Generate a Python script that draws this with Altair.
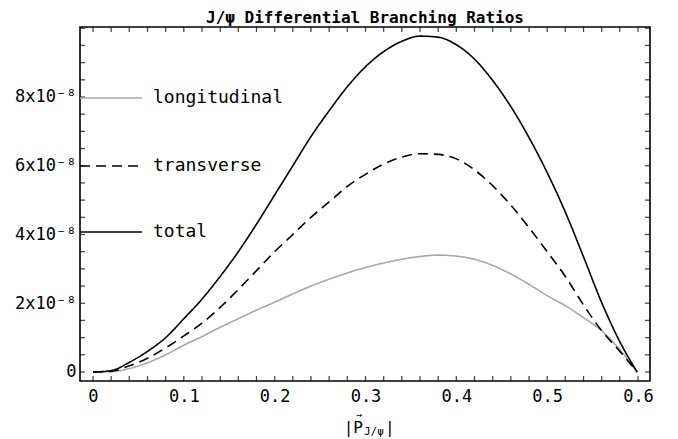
import altair as alt
import pandas as pd

# momentum |p_J/psi| (GeV)
p = [0.0, 0.02, 0.04, 0.06, 0.08, 0.10, 0.12, 0.14, 0.16, 0.18, 0.20, 0.22, 0.24,
     0.26, 0.28, 0.30, 0.32, 0.34, 0.36, 0.38, 0.40, 0.42, 0.44, 0.46, 0.48, 0.50,
     0.52, 0.54, 0.56, 0.58, 0.599]
# differential branching ratios in units of 1e-8
total = [0.0, 0.04, 0.28, 0.6, 1.0, 1.55, 2.12, 2.78, 3.5, 4.3, 5.15, 6.0, 6.85,
         7.6, 8.3, 8.88, 9.32, 9.62, 9.77, 9.74, 9.52, 9.1, 8.48, 7.72, 6.82, 5.8,
         4.65, 3.35, 2.02, 0.88, 0.0]
transverse = [0.0, 0.02, 0.18, 0.4, 0.7, 1.05, 1.42, 1.88, 2.4, 2.95, 3.5, 4.0, 4.5,
              4.95, 5.4, 5.75, 6.05, 6.25, 6.35, 6.33, 6.2, 5.88, 5.42, 4.85, 4.2, 3.5,
              2.78, 1.95, 1.2, 0.6, 0.0]
longitudinal = [0.0, 0.01, 0.1, 0.27, 0.5, 0.78, 1.03, 1.3, 1.55, 1.8, 2.03, 2.27, 2.5,
                2.7, 2.88, 3.04, 3.17, 3.28, 3.36, 3.4, 3.37, 3.28, 3.1, 2.85, 2.55, 2.22,
                1.93, 1.58, 1.2, 0.65, 0.0]

series_names = ["longitudinal", "transverse", "total"]
title_text = "J/ψ Differential Branching Ratios"
x_tick_labels = [0, 0.1, 0.2, 0.3, 0.4, 0.5, 0.6]
y_tick_labels = [0, 2, 4, 6, 8]
x_minor = [round(i * 0.02, 2) for i in range(31)]
y_minor = [round(i * 0.5, 1) for i in range(21)]

rows = []
for name, vals in zip(series_names, [longitudinal, transverse, total]):
    for xv, yv in zip(p, vals):
        rows.append({"p": xv, "br": yv, "series": name})
df = pd.DataFrame(rows)

W, H = 570, 354
FONT = "DejaVu Sans Mono"
xscale = alt.Scale(domain=[-0.0143, 0.6132], nice=False, zero=False)
yscale = alt.Scale(domain=[-0.262, 10.036], nice=False, zero=False)

xaxis = alt.Axis(values=x_tick_labels, title=None, domain=False, ticks=False,
                 grid=False, labelFont=FONT, labelFontSize=17, labelPadding=7,
                 labelColor="black", labelFlush=False,
                 labelExpr="datum.value == 0 ? '0' : format(datum.value, '.1f')")
yaxis = alt.Axis(values=y_tick_labels, title=None, domain=False, ticks=False,
                 grid=False, labelFont=FONT, labelFontSize=17, labelPadding=4,
                 labelColor="black", labelFlush=False,
                 labelExpr="datum.value == 0 ? '0' : datum.value + 'x10⁻⁸'")

lines = alt.Chart(df).mark_line(strokeWidth=1.6, interpolate="monotone").encode(
    x=alt.X("p:Q", scale=xscale, axis=xaxis),
    y=alt.Y("br:Q", scale=yscale, axis=yaxis),
    color=alt.Color("series:N", scale=alt.Scale(domain=series_names,
                                                range=["#a8a8a8", "black", "black"]),
                    legend=None),
    strokeDash=alt.StrokeDash("series:N", scale=alt.Scale(domain=series_names,
                                                          range=[[1, 0], [10, 6], [1, 0]]),
                              legend=None),
    detail="series:N",
)

dfx = pd.DataFrame({"t": x_minor})
dfy = pd.DataFrame({"u": y_minor})
TL = 5
tick_style = dict(color="black", thickness=1.3, size=TL)
bottom = alt.Chart(dfx).mark_tick(orient="vertical", **tick_style).encode(
    x=alt.X("t:Q", scale=xscale, axis=xaxis), y=alt.value(H - TL / 2))
top = alt.Chart(dfx).mark_tick(orient="vertical", **tick_style).encode(
    x=alt.X("t:Q", scale=xscale, axis=xaxis), y=alt.value(TL / 2))
left = alt.Chart(dfy).mark_tick(orient="horizontal", **tick_style).encode(
    y=alt.Y("u:Q", scale=yscale, axis=yaxis), x=alt.value(TL / 2))
right = alt.Chart(dfy).mark_tick(orient="horizontal", **tick_style).encode(
    y=alt.Y("u:Q", scale=yscale, axis=yaxis), x=alt.value(W - TL / 2))

# manual legend
leg_y = [71, 139, 205]
leg_colors = ["#a8a8a8", "black", "black"]
leg_dash = [[1, 0], [10, 6], [1, 0]]
legend_layers = []
for name, yy, c, d in zip(series_names, leg_y, leg_colors, leg_dash):
    legend_layers.append(
        alt.Chart(pd.DataFrame({"s": [name]})).mark_rule(color=c, strokeWidth=1.6, strokeDash=d)
        .encode(x=alt.value(0), x2=alt.value(62), y=alt.value(yy)))
    legend_layers.append(
        alt.Chart(pd.DataFrame({"s": [name]})).mark_text(
            align="left", baseline="middle", font=FONT, fontSize=18, color="black")
        .encode(x=alt.value(73), y=alt.value(yy), text="s:N"))

# title and x-axis title drawn as text
def label(txt, x, y, size, align="center", weight="normal"):
    return alt.Chart(pd.DataFrame({"s": [txt]})).mark_text(
        align=align, baseline="middle", font=FONT, fontSize=size, color="black",
        fontWeight=weight).encode(x=alt.value(x), y=alt.value(y), text="s:N")

title_layer = label(title_text, W / 2, -9, 16, weight="bold")
xt1 = label("|P", 283, H + 47, 16, align="right")
xt_arrow = label("→", 279, H + 34, 10)
xt2 = label("J/ψ", 284, H + 51, 11, align="left")
xt3 = label("|", 305, H + 47, 16, align="left")

chart = alt.layer(lines, bottom, top, left, right, *legend_layers,
                  title_layer, xt1, xt_arrow, xt2, xt3).properties(
    width=W, height=H,
    autosize=alt.AutoSizeParams(type="none"),
    padding={"left": 72, "top": 19, "right": 20, "bottom": 58},
).configure_view(stroke="black", strokeWidth=1.6)

chart.save("out.html", embed_options={"renderer": "svg", "actions": False})
